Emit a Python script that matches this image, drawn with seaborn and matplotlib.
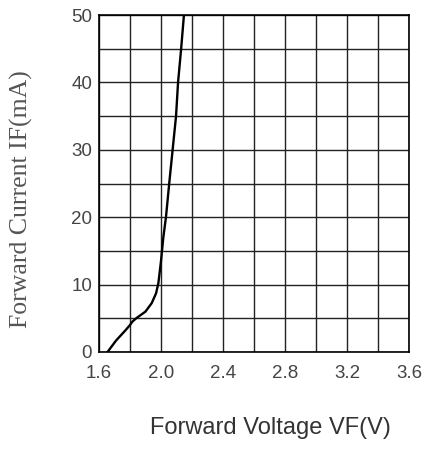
import matplotlib
matplotlib.use("Agg")
import matplotlib.pyplot as plt
import seaborn as sns
import numpy as np
import pandas as pd

# Data
voltage = [1.655, 1.71, 1.77, 1.80, 1.815, 1.84, 1.90, 1.94, 1.968, 1.983, 2.0, 2.015, 2.032, 2.053, 2.075, 2.097, 2.11, 2.13, 2.148]
current = [0.0, 1.7, 3.2, 4.0, 4.5, 5.0, 6.0, 7.25, 8.7, 10.2, 13.5, 17.0, 20.0, 25.0, 30.0, 35.0, 40.0, 45.0, 50.0]
x_ticks = [1.6, 2.0, 2.4, 2.8, 3.2, 3.6]
x_tick_labels = ["1.6", "2.0", "2.4", "2.8", "3.2", "3.6"]
y_ticks = [0, 10, 20, 30, 40, 50]
y_tick_labels = ["0", "10", "20", "30", "40", "50"]
x_label = "Forward Voltage VF(V)"
y_label = "Forward Current IF(mA)"

df = pd.DataFrame({"V": voltage, "I": current})

sns.set_style("white")
plt.rcParams["font.family"] = ["Liberation Sans", "DejaVu Sans"]

fig = plt.figure(figsize=(4.28, 4.5), dpi=100)
ax = fig.add_axes([99 / 428, 1 - 352 / 450, 310 / 428, 337 / 450])

sns.lineplot(data=df, x="V", y="I", ax=ax, sort=False, color="black", linewidth=1.7, zorder=3)

ax.set_xlim(1.6, 3.6)
ax.set_ylim(0, 50)
ax.set_xticks(x_ticks)
ax.set_xticklabels(x_tick_labels)
ax.set_yticks(y_ticks)
ax.set_yticklabels(y_tick_labels)
ax.set_xticks(np.arange(1.6, 3.61, 0.2), minor=True)
ax.set_yticks(np.arange(0, 50.1, 5), minor=True)
ax.grid(which="both", color="#222222", linewidth=1.0)
ax.tick_params(which="both", length=0)
ax.tick_params(axis="y", pad=5, labelsize=13.5, labelcolor="#444444")
ax.tick_params(axis="x", pad=9, labelsize=13.5, labelcolor="#444444")
for s in ax.spines.values():
    s.set_color("black")
    s.set_linewidth(1.2)

ax.set_xlabel("")
ax.set_ylabel("")
fig.text(270 / 428, 1 - 428 / 450, x_label, ha="center", va="center",
         fontsize=17, color="#333333",
         family=["Liberation Sans", "DejaVu Sans"])
fig.text(21 / 428, 1 - 199 / 450, y_label, ha="center", va="center", rotation=90,
         fontsize=18.5, color="#555555",
         family=["Liberation Serif", "DejaVu Serif"])

fig.savefig("out.png", dpi=100)
